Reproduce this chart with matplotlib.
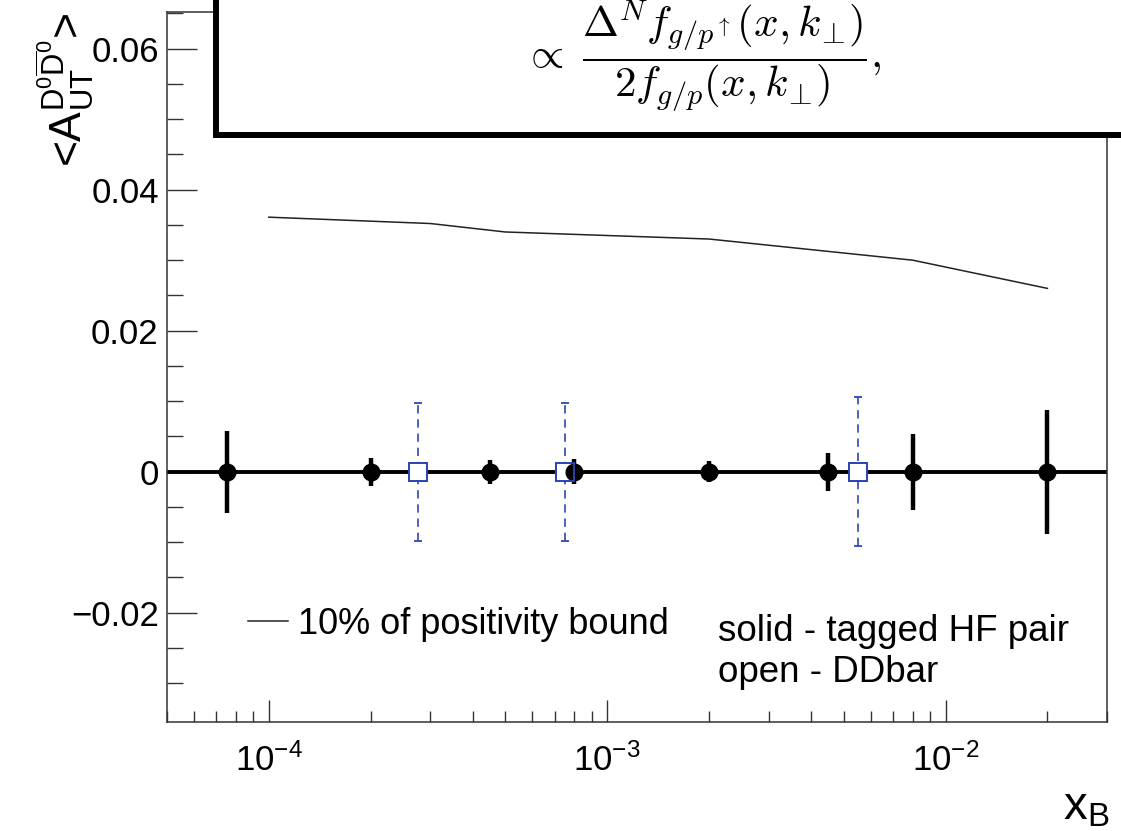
import matplotlib
matplotlib.use("Agg")
import matplotlib.pyplot as plt
from matplotlib.patches import Rectangle
from matplotlib.ticker import FixedLocator, FixedFormatter, LogLocator, NullFormatter
import numpy as np

plt.rcParams['font.family'] = ['Liberation Sans', 'DejaVu Sans']
plt.rcParams['mathtext.fontset'] = 'custom'
plt.rcParams['mathtext.rm'] = 'Liberation Sans'
plt.rcParams['mathtext.it'] = 'Liberation Sans:italic'
plt.rcParams['mathtext.bf'] = 'Liberation Sans:bold'

# solid - tagged HF pair
x_tagged = [7.5e-5, 2.0e-4, 4.5e-4, 8.0e-4, 2.0e-3, 4.5e-3, 8.0e-3, 2.0e-2]
y_tagged = [0, 0, 0, 0, 0, 0, 0, 0]
err_tagged = [0.0058, 0.0020, 0.0017, 0.0018, 0.0015, 0.0027, 0.0054, 0.0088]

# open - DDbar
x_ddbar = [2.75e-4, 7.5e-4, 5.5e-3]
y_ddbar = [0, 0, 0]
err_ddbar = [0.0098, 0.0098, 0.0106]

# 10% of positivity bound
x_bound = [1e-4, 3e-4, 5e-4, 1e-3, 2e-3, 8e-3, 2e-2]
y_bound = [0.0361, 0.0352, 0.0340, 0.0335, 0.0330, 0.0300, 0.0260]

yticks = [-0.02, 0, 0.02, 0.04, 0.06]
ytick_labels = ['\u22120.02', '0', '0.02', '0.04', '0.06']
xticks = [1e-4, 1e-3, 1e-2]
xtick_labels = [r'$10^{-4}$', r'$10^{-3}$', r'$10^{-2}$']

blue = '#2f45b5'

fig = plt.figure(figsize=(11.21, 8.31), dpi=100)
ax = fig.add_axes([167/1121, 1 - 722/831, 940/1121, 710/831])

ax.set_xscale('log')
ax.set_xlim(5e-5, 3e-2)
ax.set_ylim(-0.0355, 0.0652)

ax.axhline(0, color='k', lw=2.8, zorder=2)
ax.plot(x_bound, y_bound, color='#222222', lw=1.1, zorder=2,
        label='10% of positivity bound')

# open squares: filled white first so zero line is hidden, edges on top later
ax.errorbar(x_ddbar, y_ddbar, yerr=err_ddbar, fmt='s', ms=13, mfc='white',
            mec=blue, mew=1.3, ecolor=blue, elinewidth=1.2, capsize=3,
            capthick=1.2, zorder=3)
for line in ax.containers[-1].lines[2]:
    line.set_linestyle((0, (5, 3.5)))

ax.errorbar(x_tagged, y_tagged, yerr=err_tagged, fmt='o', ms=12, color='k',
            elinewidth=3.2, capsize=0, zorder=4)
ax.plot(x_ddbar, y_ddbar, 's', ms=13, mfc='none', mec=blue, mew=1.3, zorder=5)

# ticks
ax.yaxis.set_major_locator(FixedLocator(yticks))
ax.yaxis.set_major_formatter(FixedFormatter(ytick_labels))
ax.yaxis.set_minor_locator(FixedLocator(np.arange(-0.03, 0.0651, 0.005)))
ax.xaxis.set_major_locator(FixedLocator(xticks))
ax.xaxis.set_major_formatter(FixedFormatter(xtick_labels))
ax.xaxis.set_minor_locator(LogLocator(base=10, subs=np.arange(2, 10)))
ax.xaxis.set_minor_formatter(NullFormatter())

ax.tick_params(axis='y', which='major', direction='in', length=21.6, width=1.0,
               labelsize=25, pad=6, color='#333333')
ax.tick_params(axis='y', which='minor', direction='in', length=11.5, width=1.0,
               color='#333333')
ax.tick_params(axis='x', which='major', direction='in', length=15.8, width=1.0,
               labelsize=25, pad=15, color='#333333')
ax.tick_params(axis='x', which='minor', direction='in', length=7.9, width=1.0,
               color='#333333')
for s in ax.spines.values():
    s.set_linewidth(1.1)
    s.set_color('#333333')

ax.set_ylabel(r'<A$_{\rm UT}^{\rm D^{0}\overline{D}^{0}}$>', fontsize=32,
              loc='top')
ax.yaxis.set_label_coords(-0.076, 1.0)
ax.set_xlabel(r'x$_{\rm B}$', fontsize=34, loc='right')
ax.xaxis.set_label_coords(1.003, -0.09)

ax.legend(loc='center left', bbox_to_anchor=(0.0862, 0.138), frameon=False,
          fontsize=26, handlelength=1.1, handletextpad=0.27, borderpad=0,
          borderaxespad=0)

ax.text(0.586, 0.1268, 'solid - tagged HF pair', transform=ax.transAxes,
        fontsize=26.5, va='center', ha='left')
ax.text(0.586, 0.0704, 'open - DDbar', transform=ax.transAxes,
        fontsize=26.5, va='center', ha='left')

# formula box (cut by the top/right of the canvas)
box = Rectangle((216/1121, 1 - 135/831), 1.2, 0.4, transform=fig.transFigure,
                facecolor='white', edgecolor='black', lw=4.3, zorder=5,
                clip_on=False)
fig.add_artist(box)
fig.text(702/1121, 1 - 55/831,
         r'$\propto\;\dfrac{\Delta^N f_{g/p^{\uparrow}}(x,k_{\!\bot\!})}{2f_{g/p}(x,k_{\!\bot\!})},$',
         fontsize=31, math_fontfamily='cm', ha='center', va='center', zorder=6)

fig.savefig('out.png', dpi=100)
